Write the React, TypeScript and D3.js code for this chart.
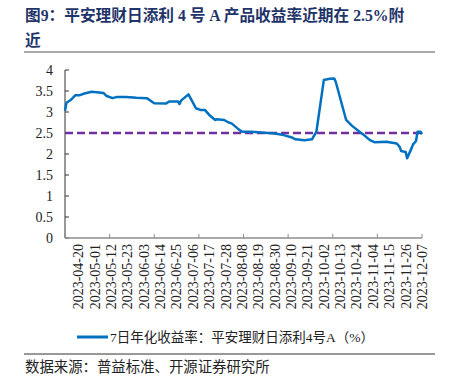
import React from "react";
import * as d3 from "d3";

const titleLine1 = "图9：平安理财日添利 4 号 A 产品收益率近期在 2.5%附";
const titleLine2 = "近";
const legendLabel = "7日年化收益率：平安理财日添利4号A（%）";
const sourceText = "数据来源：普益标准、开源证券研究所";

const dates = [
  "2023-04-11", "2023-04-12", "2023-04-15", "2023-04-18", "2023-04-21", "2023-04-24",
  "2023-04-29", "2023-05-07", "2023-05-09", "2023-05-13", "2023-05-16", "2023-05-22",
  "2023-05-29", "2023-06-05", "2023-06-10", "2023-06-18", "2023-06-20", "2023-06-26",
  "2023-06-27", "2023-06-28", "2023-07-03", "2023-07-05", "2023-07-08", "2023-07-11",
  "2023-07-14", "2023-07-17", "2023-07-21", "2023-07-22", "2023-07-27", "2023-07-30",
  "2023-08-01", "2023-08-05", "2023-08-08", "2023-08-14", "2023-08-21", "2023-08-30",
  "2023-09-05", "2023-09-10", "2023-09-13", "2023-09-19", "2023-09-24", "2023-09-27",
  "2023-10-02", "2023-10-06", "2023-10-09", "2023-10-10", "2023-10-17", "2023-10-21",
  "2023-10-26", "2023-10-29", "2023-11-02", "2023-11-05", "2023-11-13", "2023-11-20",
  "2023-11-22", "2023-11-23", "2023-11-26", "2023-11-27", "2023-11-30", "2023-12-01",
  "2023-12-03", "2023-12-04", "2023-12-06", "2023-12-07",
];
const yields = [
  3.03, 3.22, 3.29, 3.40, 3.40, 3.44,
  3.48, 3.45, 3.38, 3.33, 3.36, 3.36,
  3.34, 3.33, 3.21, 3.20, 3.25, 3.25,
  3.19, 3.27, 3.42, 3.29, 3.09, 3.05,
  3.05, 2.93, 2.81, 2.83, 2.81, 2.75,
  2.73, 2.61, 2.53, 2.53, 2.51, 2.49,
  2.45, 2.40, 2.35, 2.33, 2.35, 2.53,
  3.76, 3.79, 3.80, 3.72, 2.81, 2.67,
  2.53, 2.45, 2.33, 2.28, 2.29, 2.25,
  2.17, 2.07, 2.05, 1.90, 2.14, 2.23,
  2.31, 2.53, 2.53, 2.47,
];
const refLevel = 2.5;

const yTickValues = [0, 0.5, 1, 1.5, 2, 2.5, 3, 3.5, 4];
const xLabels = [
  "2023-04-20", "2023-05-01", "2023-05-12", "2023-05-23", "2023-06-03", "2023-06-14",
  "2023-06-25", "2023-07-06", "2023-07-17", "2023-07-28", "2023-08-08", "2023-08-19",
  "2023-08-30", "2023-09-10", "2023-09-21", "2023-10-02", "2023-10-13", "2023-10-24",
  "2023-11-04", "2023-11-15", "2023-11-26", "2023-12-07",
];
const axisStart = "2023-04-11";
const axisEnd = "2023-12-07";
const tickStepDays = 30;

const parse = d3.utcParse("%Y-%m-%d");

export default function App() {
  const W = 454;
  const H = 376;
  const x = d3.scaleUtc().domain([parse(axisStart)!, parse(axisEnd)!]).range([65, 422]);
  const y = d3.scaleLinear().domain([0, 4]).range([238, 70]);

  const data = dates.map((d, i) => ({ d: parse(d)!, v: yields[i] }));
  const line = d3
    .line<{ d: Date; v: number }>()
    .x((p) => x(p.d))
    .y((p) => y(p.v));

  const start = parse(axisStart)!;
  const end = parse(axisEnd)!;
  const nTicks = Math.round(d3.utcDay.count(start, end) / tickStepDays);
  const xTicks = d3.range(0, nTicks + 1).map((i) => d3.utcDay.offset(start, i * tickStepDays));

  const serif = "'Liberation Serif', 'Times New Roman', serif";
  const titleFont = "'Liberation Serif', 'Noto Sans CJK SC', serif";
  const cjk = "'Liberation Serif', 'Noto Sans CJK SC', sans-serif";

  return (
    <svg
      width={W}
      height={H}
      viewBox={`0 0 ${W} ${H}`}
      style={{ position: "absolute", left: 0, top: 0, background: "#fff" }}
    >
      <rect x={0} y={0} width={W} height={H} fill="#fff" />
      <text x={25} y={21} fontFamily={titleFont} fontWeight="bold" fontSize={15.7} fill="#1f3468">
        {titleLine1}
      </text>
      <text x={25} y={46} fontFamily={titleFont} fontWeight="bold" fontSize={15.7} fill="#1f3468">
        {titleLine2}
      </text>
      <line x1={24} x2={435} y1={52} y2={52} stroke="#8c8c8c" strokeWidth={1.5} />

      {/* y axis */}
      <line x1={65} x2={65} y1={y(4)} y2={y(0)} stroke="#333" strokeWidth={1} />
      {yTickValues.map((t) => (
        <g key={t}>
          <line x1={65} x2={69} y1={y(t)} y2={y(t)} stroke="#333" strokeWidth={1} />
          <text
            x={53}
            y={y(t)}
            dy="0.35em"
            textAnchor="end"
            fontFamily={serif}
            fontSize={14}
            fill="#222"
          >
            {d3.format("~g")(t)}
          </text>
        </g>
      ))}

      {/* x axis */}
      <line x1={x(start)} x2={x(end)} y1={238} y2={238} stroke="#8c8c8c" strokeWidth={1.5} />
      {xTicks.map((t, i) => (
        <line key={i} x1={x(t)} x2={x(t)} y1={238} y2={234} stroke="#8c8c8c" strokeWidth={1} />
      ))}
      {xLabels.map((l) => {
        const px = x(parse(l)!);
        return (
          <text
            key={l}
            transform={`translate(${px},${244}) rotate(-90)`}
            dy="0.35em"
            textAnchor="end"
            fontFamily={serif}
            fontSize={14}
            fill="#222"
          >
            {l}
          </text>
        );
      })}

      {/* reference dashed line */}
      <line
        x1={x(start)}
        x2={x(end)}
        y1={y(refLevel)}
        y2={y(refLevel)}
        stroke="#7030a0"
        strokeWidth={2.5}
        strokeDasharray="8 4"
      />

      {/* series */}
      <path d={line(data) ?? ""} fill="none" stroke="#0070c0" strokeWidth={2.5} strokeLinejoin="round" />

      {/* legend */}
      <line x1={77} x2={108} y1={337} y2={337} stroke="#0070c0" strokeWidth={3} />
      <text x={110} y={337} dy="0.35em" fontFamily={cjk} fontSize={13.5} fill="#222">
        {legendLabel}
      </text>

      <line x1={24} x2={435} y1={354} y2={354} stroke="#333" strokeWidth={1} />
      <text x={25} y={367} dy="0.35em" fontFamily={cjk} fontSize={14.4} fill="#222">
        {sourceText}
      </text>
    </svg>
  );
}
